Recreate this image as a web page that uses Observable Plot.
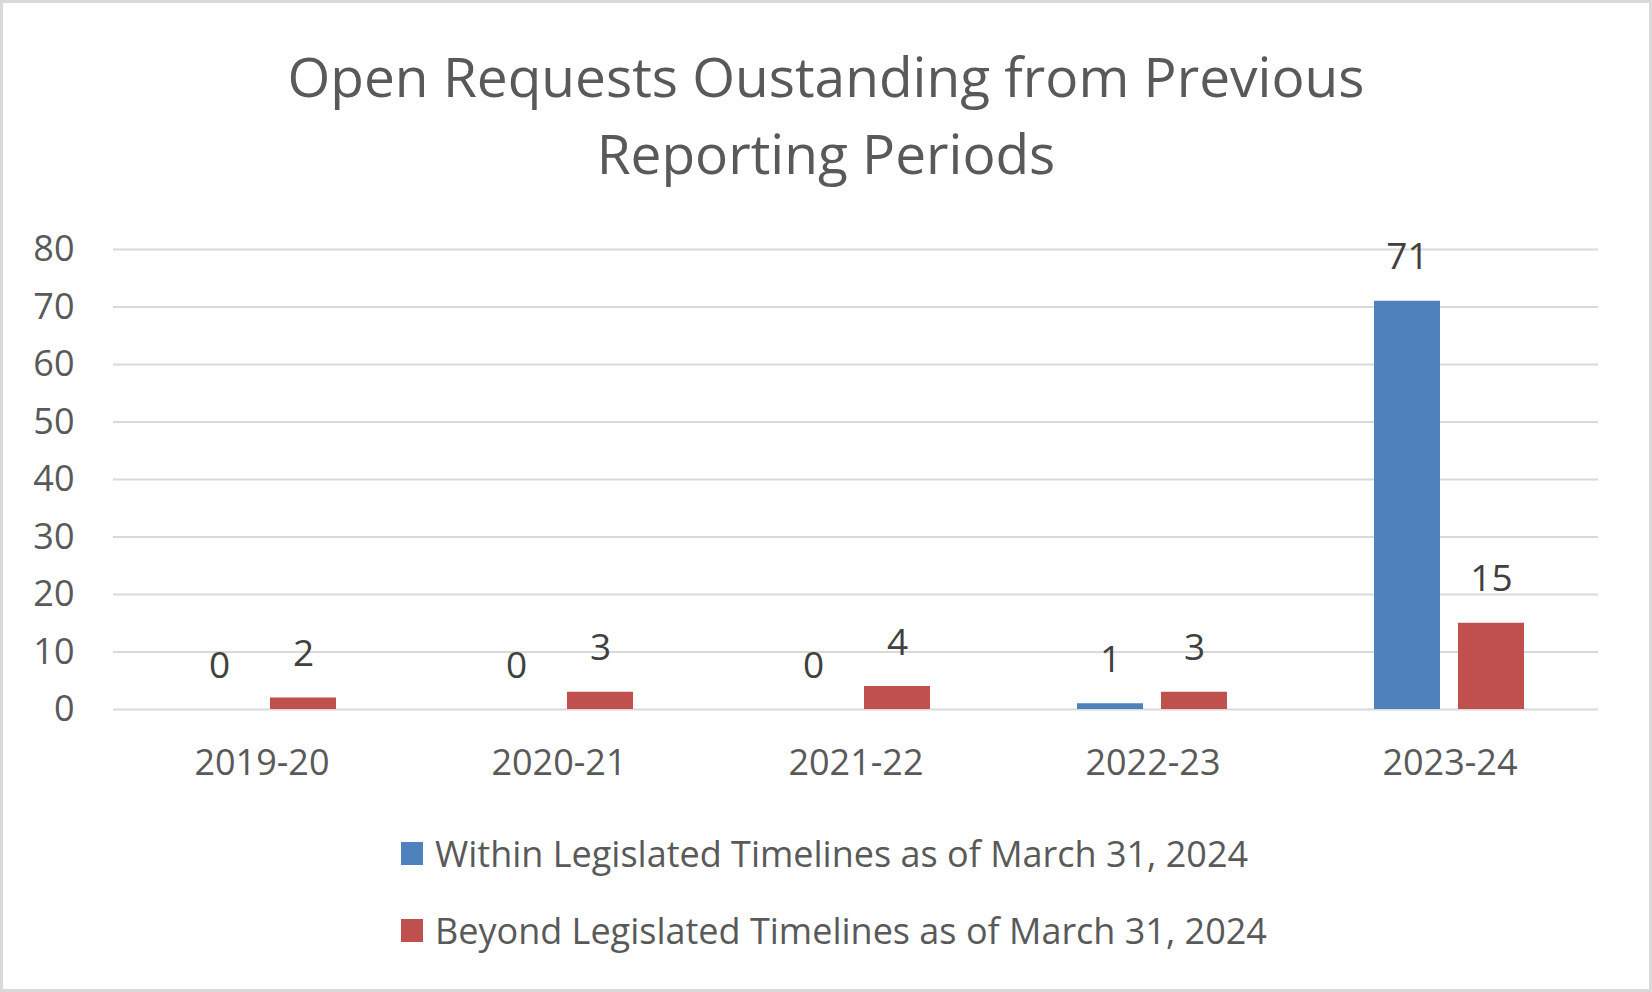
<!DOCTYPE html>
<html>
<head>
<meta charset="utf-8">
<script src="https://cdn.jsdelivr.net/npm/d3@7"></script>
<script src="https://cdn.jsdelivr.net/npm/@observablehq/plot@0.6"></script>
<style>
  html, body { margin: 0; padding: 0; background: #fff; }
  #root { position: relative; width: 1652px; height: 992px; overflow: hidden; font-family: "Open Sans", sans-serif; color: #595959; }
  #frame { position: absolute; left: 0; top: 0; width: 1652px; height: 992px; box-sizing: border-box; border: 3px solid #d9d9d9; pointer-events: none; }
  #title { position: absolute; left: 0; top: 0; width: 1652px; text-align: center; font-size: 55px; line-height: 77px; padding-top: 37px; box-sizing: border-box; }
  #chart { position: absolute; left: 0; top: 210px; }
  .leg { position: absolute; left: 401px; display: flex; align-items: center; font-size: 36px; white-space: nowrap; }
  .leg .sw { width: 22px; height: 23px; margin-right: 12px; }
</style>
</head>
<body>
<div id="root">
  <div id="title">Open Requests Oustanding from Previous<br>Reporting Periods</div>
  <div id="chart"></div>
  <div id="legend"></div>
  <div id="frame"></div>
</div>
<script>
const periods = ["2019-20", "2020-21", "2021-22", "2022-23", "2023-24"];
const seriesNames = ["Within Legislated Timelines as of March 31, 2024", "Beyond Legislated Timelines as of March 31, 2024"];
const withinValues = [0, 0, 0, 1, 71];
const beyondValues = [2, 3, 4, 3, 15];
const seriesColors = ["#4f81bd", "#c0504d"];
const yTicks = [0, 10, 20, 30, 40, 50, 60, 70, 80];

const data = [];
periods.forEach((p, i) => {
  data.push({period: p, series: seriesNames[0], value: withinValues[i]});
  data.push({period: p, series: seriesNames[1], value: beyondValues[i]});
});

const chart = Plot.plot({
  width: 1652,
  height: 590,
  marginTop: 39,
  marginBottom: 91,
  marginLeft: 111,
  marginRight: 52,
  style: { fontFamily: "Open Sans, sans-serif", fontSize: "36px", color: "#595959", background: "transparent", overflow: "visible" },
  fx: { domain: periods, padding: 0, label: null, axis: "bottom", tickSize: 0, tickPadding: 40 },
  x: { domain: seriesNames, paddingInner: 0.2118, paddingOuter: 0.8577, axis: null },
  y: { domain: [0, 80], ticks: yTicks, tickSize: 0, tickPadding: 39, label: null },
  color: { domain: seriesNames, range: seriesColors },
  marks: [
    Plot.ruleY(yTicks, { stroke: "#d9d9d9", strokeWidth: 2 }),
    Plot.barY(data, { fx: "period", x: "series", y: "value", fill: "series" }),
    Plot.text(data, { fx: "period", x: "series", y: "value", text: d => String(d.value), dy: -32, lineAnchor: "bottom", fill: "#404040", fontSize: 37 })
  ]
});
document.getElementById("chart").appendChild(chart);

const legend = document.getElementById("legend");
const rowCenters = [853, 930];
seriesNames.forEach((s, i) => {
  const row = document.createElement("div");
  row.className = "leg";
  row.style.top = (rowCenters[i] - 25) + "px";
  row.style.height = "50px";
  const sw = document.createElement("div");
  sw.className = "sw";
  sw.style.background = seriesColors[i];
  const t = document.createElement("span");
  t.textContent = s;
  row.appendChild(sw);
  row.appendChild(t);
  legend.appendChild(row);
});
</script>
</body>
</html>
